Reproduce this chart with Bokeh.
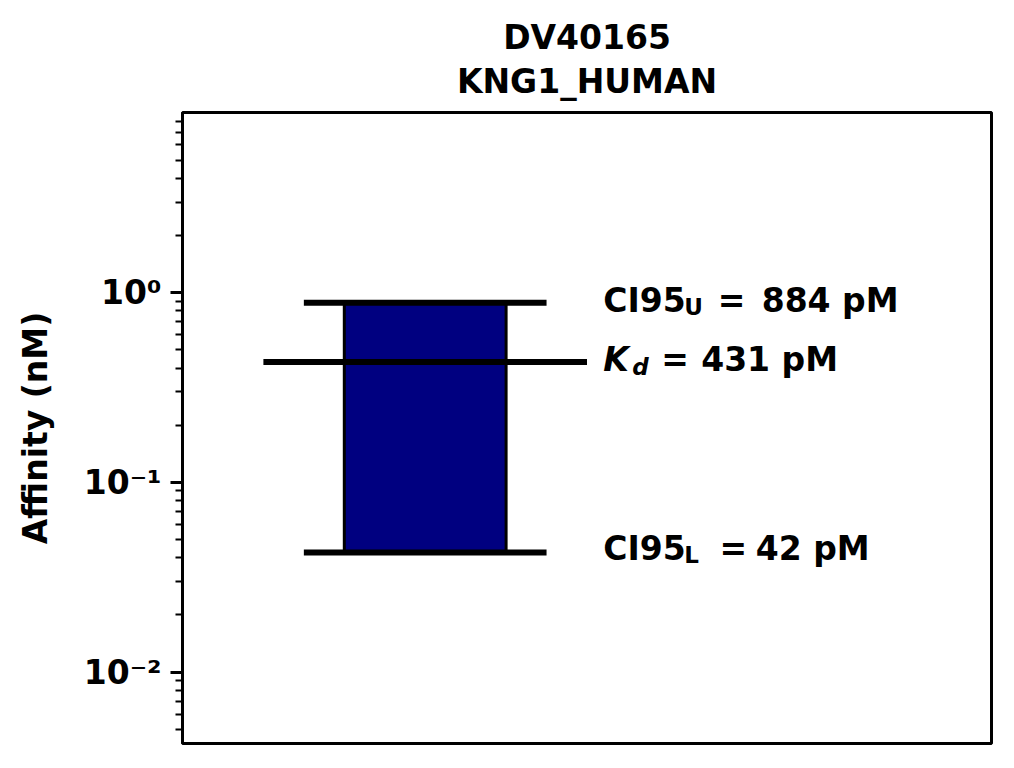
from bokeh.plotting import figure
from bokeh.models import Range1d, FixedTicker, LinearAxis
from bokeh.embed import file_html
from bokeh.resources import INLINE
from bokeh.core.properties import value

# ---- data ----
TITLE_LINES = ["DV40165", "KNG1_HUMAN"]
Y_LABEL = "Affinity (nM)"
KD = 0.431            # nM
CI95_LOWER = 0.0426   # nM
CI95_UPPER = 0.884    # nM
KD_TEXT = "431 pM"
CIU_TEXT = "884 pM"
CIL_TEXT = "42 pM"
TICK_VALUES = [0.01, 0.1, 1]
TICK_LABELS = ["10\u207b\u00b2", "10\u207b\u00b9", "10\u2070"]
Y_MIN, Y_MAX = 0.0042, 8.9

FONT = value("DejaVu Sans")
FS = "33px"
FS_SUB = "23px"

p = figure(width=1004, height=758, y_axis_type="log",
           x_range=Range1d(0, 1), y_range=Range1d(Y_MIN, Y_MAX),
           x_axis_location=None, output_backend="svg", toolbar_location=None,
           min_border_left=182, min_border_right=13, min_border_top=112,
           min_border_bottom=15)

# two-line title drawn as labels of two bare axes above the frame
for txt, standoff in zip(reversed(TITLE_LINES), [12, 2]):
    t = LinearAxis(ticker=FixedTicker(ticks=[]), axis_label=txt,
                   axis_line_color=None, major_tick_line_color=None,
                   minor_tick_line_color=None, major_tick_out=0, major_tick_in=0,
                   minor_tick_out=0, minor_tick_in=0, major_label_standoff=0,
                   major_label_text_font_size="0px",
                   axis_label_standoff=standoff, axis_label_text_font="DejaVu Sans",
                   axis_label_text_font_style="bold", axis_label_text_font_size=FS,
                   axis_label_text_color="black")
    p.add_layout(t, "above")

p.grid.visible = False
p.background_fill_color = "white"
p.border_fill_color = "white"
p.outline_line_color = "black"
p.outline_line_width = 3
p.outline_line_alpha = 1

minor = [m * 10.0 ** e for e in range(-3, 1) for m in range(2, 10)]
ax = p.yaxis[0]
ax.ticker = FixedTicker(ticks=TICK_VALUES, minor_ticks=minor)
ax.major_label_overrides = dict(zip(TICK_VALUES, TICK_LABELS))
ax.major_label_text_font = "DejaVu Sans"
ax.major_label_text_font_style = "bold"
ax.major_label_text_font_size = FS
ax.major_label_text_color = "black"
ax.major_label_standoff = 9
ax.axis_line_width = 3
ax.axis_line_color = "black"
ax.major_tick_line_width = 3
ax.major_tick_out = 12
ax.major_tick_in = 0
ax.minor_tick_line_width = 2
ax.minor_tick_out = 7
ax.minor_tick_in = 0
ax.axis_label = Y_LABEL
ax.axis_label_text_font = "DejaVu Sans"
ax.axis_label_text_font_style = "bold"
ax.axis_label_text_font_size = FS
ax.axis_label_text_color = "black"
ax.axis_label_standoff = 26

# bar spanning the 95% CI
p.quad(left=[0.2], right=[0.4], bottom=[CI95_LOWER], top=[CI95_UPPER],
       fill_color="#000080", line_color="black", line_width=3)
# horizontal markers
p.segment(x0=[0.15, 0.15], x1=[0.45, 0.45], y0=[CI95_UPPER, CI95_LOWER],
          y1=[CI95_UPPER, CI95_LOWER], line_color="black", line_width=6)
p.segment(x0=[0.1], x1=[0.5], y0=[KD], y1=[KD], line_color="black", line_width=6)


def piece(yv, txt, dx, dy, size=FS, style="bold"):
    p.text(x=[0.52], y=[yv], text=[txt], text_font=FONT, text_font_style=style,
           text_font_size=size, text_color="black", text_align="left",
           text_baseline="middle", x_offset=dx, y_offset=dy)


# CI95 upper
piece(CI95_UPPER, "CI95", 0, -2.5)
piece(CI95_UPPER, "U", 81, 4.5, FS_SUB)
piece(CI95_UPPER, "=", 114.5, -2.5)
piece(CI95_UPPER, CIU_TEXT, 158.5, -2.5)
# Kd
piece(KD, "K", 0, -2, FS, "bold italic")
piece(KD, "d", 29, 5.5, FS_SUB, "bold italic")
piece(KD, "=", 58, -2)
piece(KD, KD_TEXT, 98, -2)
# CI95 lower
piece(CI95_LOWER, "CI95", 0, -4.5)
piece(CI95_LOWER, "L", 81, 2.5, FS_SUB)
piece(CI95_LOWER, "=", 116.3, -4.5)
piece(CI95_LOWER, CIL_TEXT, 152.6, -4.5)

open("out.html", "w").write(file_html(p, INLINE))
